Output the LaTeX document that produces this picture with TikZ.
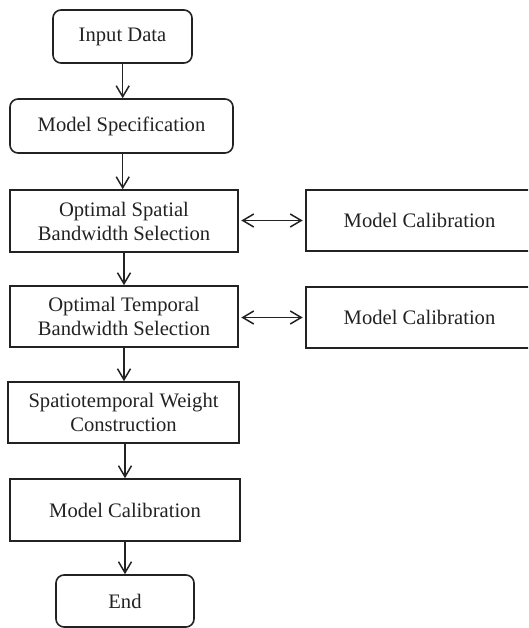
\documentclass[tikz,border=0pt]{standalone}
\usepackage{fontspec}
\setmainfont{Liberation Serif}
\usetikzlibrary{arrows.meta}
\definecolor{ink}{HTML}{222222}
\tikzset{
  box/.style={draw=ink, line width=1.6pt, inner sep=0pt, align=center,
    font=\fontsize{20.6}{24}\selectfont, text=ink},
  rbox/.style={box, rounded corners=8pt},
  arr/.style={draw=ink, line width=1.5pt, -{Straight Barb[length=11pt,width=13pt]}},
  biarr/.style={draw=ink, line width=1.5pt,
    {Straight Barb[length=11pt,width=13pt]}-{Straight Barb[length=11pt,width=13pt]},
    shorten <=2.5pt, shorten >=2.5pt}
}
\begin{document}
\begin{tikzpicture}[x=1pt,y=-1pt]
\useasboundingbox (0,0) rectangle (528,628);
\clip (0,0) rectangle (528,628);

% main column
\node[rbox, minimum width=139pt, minimum height=53pt] (input) at (122.5,36.5) {Input Data};
\node[rbox, minimum width=223pt, minimum height=54pt] (spec) at (121.5,126) {Model Specification};
\node[box, minimum width=228pt, minimum height=62pt] (spat) at (124,221) {Optimal Spatial\\Bandwidth Selection};
\node[box, minimum width=228pt, minimum height=61pt] (temp) at (124,316.5) {Optimal Temporal\\Bandwidth Selection};
\node[box, minimum width=231pt, minimum height=61pt] (weight) at (123.5,412.5) {Spatiotemporal Weight\\Construction};
\node[box, minimum width=230pt, minimum height=62pt] (calib) at (125,510) {Model Calibration};
\node[rbox, minimum width=138pt, minimum height=52pt] (end) at (125,601) {End};

% side calibration boxes
\node[box, minimum width=227pt, minimum height=61pt] (calibA) at (419.5,220.5) {Model Calibration};
\node[box, minimum width=227pt, minimum height=61pt] (calibB) at (419.5,317.5) {Model Calibration};

% vertical flow
\draw[arr] (input.south) ++(0.2,0) coordinate (s1) -- (s1 |- spec.north);
\draw[arr] (spec.south) ++(1.2,0) coordinate (s2) -- (s2 |- spat.north);
\draw[arr] (spat.south) -- (temp.north);
\draw[arr] (temp.south) -- (temp.south |- weight.north);
\draw[arr] (weight.south) ++(1.5,0) coordinate (s5) -- (s5 |- calib.north);
\draw[arr] (calib.south) -- (end.north);

% two-way links to calibration
\draw[biarr] (spat.east |- calibA.west) -- (calibA.west);
\draw[biarr] (temp.east |- calibB.west) -- (calibB.west);
\end{tikzpicture}
\end{document}
